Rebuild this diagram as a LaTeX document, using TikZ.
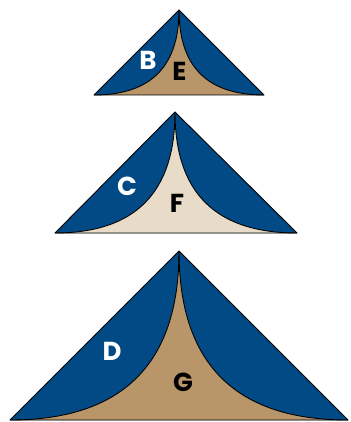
\documentclass[tikz,border=0pt]{standalone}
\usepackage{fontspec}
\setmainfont{Poppins}[UprightFont=* Bold]
\usetikzlibrary{calc}
\definecolor{pblue}{RGB}{2,74,134}
\definecolor{ptan}{RGB}{185,149,106}
\definecolor{pbeige}{RGB}{232,220,200}
\tikzset{
  outline/.style={draw=black,line width=0.9pt,line join=round},
  lblw/.style={text=white,font=\fontsize{26}{26}\selectfont,inner sep=0pt,anchor=base},
  lblk/.style={text=black,font=\fontsize{26}{26}\selectfont,inner sep=0pt,anchor=base}
}
% #1 apex x, #2 apex y, #3 left x, #4 right x, #5 base y, #6 inner colour
\newcommand\pyramidshape[6]{%
  \coordinate (A) at (#1,#2);
  \coordinate (L) at (#3,#5);
  \coordinate (R) at (#4,#5);
  \coordinate (Q) at (#1,#5);
  \fill[pblue] (A) -- (L) -- (R) -- cycle;
  \fill[#6] (A) .. controls ($(A)!0.6667!(Q)$) and ($(L)!0.6667!(Q)$) .. (L)
     -- (R) .. controls ($(R)!0.6667!(Q)$) and ($(A)!0.6667!(Q)$) .. (A) -- cycle;
  \draw[outline] (A) .. controls ($(A)!0.6667!(Q)$) and ($(L)!0.6667!(Q)$) .. (L);
  \draw[outline] (A) .. controls ($(A)!0.6667!(Q)$) and ($(R)!0.6667!(Q)$) .. (R);
  \draw[outline] (A) -- (L) -- (R) -- cycle;
}
\begin{document}
\begin{tikzpicture}[x=1pt,y=-1pt]
\useasboundingbox (0,0) rectangle (350,422);
\pyramidshape{179}{10}{94}{264}{95}{ptan}
\pyramidshape{175}{112}{55}{297}{233}{pbeige}
\pyramidshape{179}{251}{10}{348}{420}{ptan}
\node[lblw] (B) at (148,69.5) {B};
\node[lblk] (E) at (179.5,80.5) {E};
\node[lblw] (C) at (127,195.5) {C};
\node[lblk] (F) at (177,212.5) {F};
\node[lblw] (D) at (112,360.5) {D};
\node[lblk] (G) at (183,391.5) {G};
\end{tikzpicture}
\end{document}
